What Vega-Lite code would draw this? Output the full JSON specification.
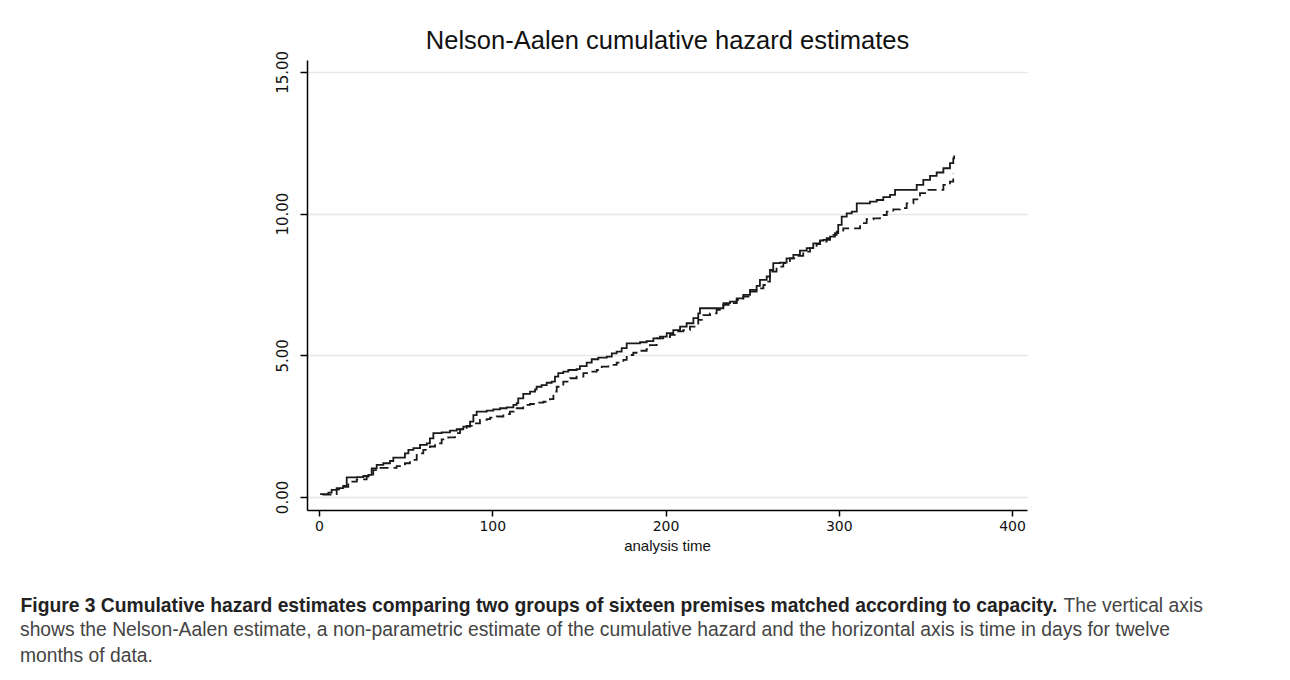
{
  "$schema": "https://vega.github.io/schema/vega-lite/v6.json",
  "width": 720,
  "height": 450,
  "autosize": {"type": "none"},
  "padding": {"left": 307, "top": 60, "right": 263, "bottom": 170},
  "background": "white",
  "config": {"view": {"stroke": null}, "font": "Liberation Sans"},
  "title": {
    "text": [
      "shows the Nelson-Aalen estimate, a non-parametric estimate of the cumulative hazard and the horizontal axis is time in days for twelve",
      "months of data."
    ],
    "orient": "bottom",
    "anchor": "start",
    "frame": "group",
    "dx": -287,
    "offset": 6,
    "font": "Liberation Sans",
    "fontSize": 19.3,
    "fontWeight": "normal",
    "color": "#444444",
    "lineHeight": 26
  },
  "data": {
    "values": [
      {"g": "a", "t": 0.6, "h": 0.10}, {"g": "a", "t": 5.4, "h": 0.15}, {"g": "a", "t": 7.3, "h": 0.25}, {"g": "a", "t": 10.2, "h": 0.31},
      {"g": "a", "t": 14, "h": 0.39}, {"g": "a", "t": 16, "h": 0.69}, {"g": "a", "t": 21.8, "h": 0.70}, {"g": "a", "t": 25.6, "h": 0.74},
      {"g": "a", "t": 28.5, "h": 0.78}, {"g": "a", "t": 30.4, "h": 1.01}, {"g": "a", "t": 33.3, "h": 1.13}, {"g": "a", "t": 37.1, "h": 1.19},
      {"g": "a", "t": 41, "h": 1.27}, {"g": "a", "t": 42.9, "h": 1.39}, {"g": "a", "t": 49.6, "h": 1.54}, {"g": "a", "t": 51.6, "h": 1.66},
      {"g": "a", "t": 54.5, "h": 1.72}, {"g": "a", "t": 58.3, "h": 1.84}, {"g": "a", "t": 62.2, "h": 1.89}, {"g": "a", "t": 64, "h": 2.07},
      {"g": "a", "t": 66, "h": 2.25}, {"g": "a", "t": 70.8, "h": 2.28}, {"g": "a", "t": 75.6, "h": 2.34}, {"g": "a", "t": 79.5, "h": 2.39},
      {"g": "a", "t": 83.3, "h": 2.48}, {"g": "a", "t": 87.2, "h": 2.66}, {"g": "a", "t": 89.1, "h": 2.89}, {"g": "a", "t": 91, "h": 3.01},
      {"g": "a", "t": 96.8, "h": 3.05}, {"g": "a", "t": 100.6, "h": 3.09}, {"g": "a", "t": 104.5, "h": 3.13}, {"g": "a", "t": 108.3, "h": 3.16},
      {"g": "a", "t": 112.2, "h": 3.25}, {"g": "a", "t": 114.1, "h": 3.31}, {"g": "a", "t": 115, "h": 3.48}, {"g": "a", "t": 117.9, "h": 3.64},
      {"g": "a", "t": 121.8, "h": 3.72}, {"g": "a", "t": 124.7, "h": 3.80}, {"g": "a", "t": 125.6, "h": 3.89}, {"g": "a", "t": 128.5, "h": 3.95},
      {"g": "a", "t": 131.4, "h": 4.03}, {"g": "a", "t": 134.3, "h": 4.07}, {"g": "a", "t": 136.2, "h": 4.25}, {"g": "a", "t": 138.1, "h": 4.37},
      {"g": "a", "t": 141, "h": 4.42}, {"g": "a", "t": 143.9, "h": 4.48}, {"g": "a", "t": 148.7, "h": 4.51}, {"g": "a", "t": 150.6, "h": 4.62},
      {"g": "a", "t": 154.5, "h": 4.74}, {"g": "a", "t": 157.4, "h": 4.86}, {"g": "a", "t": 161.2, "h": 4.92}, {"g": "a", "t": 166.1, "h": 4.95},
      {"g": "a", "t": 169, "h": 5.07}, {"g": "a", "t": 171.8, "h": 5.13}, {"g": "a", "t": 174.7, "h": 5.25}, {"g": "a", "t": 177.6, "h": 5.42},
      {"g": "a", "t": 185.3, "h": 5.46}, {"g": "a", "t": 189.1, "h": 5.50}, {"g": "a", "t": 193, "h": 5.60}, {"g": "a", "t": 196.8, "h": 5.66},
      {"g": "a", "t": 200.7, "h": 5.78}, {"g": "a", "t": 204.5, "h": 5.89}, {"g": "a", "t": 208.4, "h": 6.01}, {"g": "a", "t": 212.2, "h": 6.13},
      {"g": "a", "t": 216.1, "h": 6.31}, {"g": "a", "t": 218.9, "h": 6.48}, {"g": "a", "t": 219.9, "h": 6.66}, {"g": "a", "t": 233.4, "h": 6.84},
      {"g": "a", "t": 237.2, "h": 6.89}, {"g": "a", "t": 241.1, "h": 7.01}, {"g": "a", "t": 244.9, "h": 7.13}, {"g": "a", "t": 248.8, "h": 7.31},
      {"g": "a", "t": 252.6, "h": 7.45}, {"g": "a", "t": 254.5, "h": 7.66}, {"g": "a", "t": 258.4, "h": 7.78}, {"g": "a", "t": 260.3, "h": 8.01},
      {"g": "a", "t": 262.2, "h": 8.25}, {"g": "a", "t": 266.1, "h": 8.27}, {"g": "a", "t": 269.9, "h": 8.42}, {"g": "a", "t": 273.8, "h": 8.54},
      {"g": "a", "t": 277.6, "h": 8.69}, {"g": "a", "t": 281.5, "h": 8.78}, {"g": "a", "t": 285.3, "h": 8.95}, {"g": "a", "t": 289.2, "h": 9.05},
      {"g": "a", "t": 291.1, "h": 9.07}, {"g": "a", "t": 295, "h": 9.19}, {"g": "a", "t": 297.8, "h": 9.31}, {"g": "a", "t": 299.7, "h": 9.60},
      {"g": "a", "t": 301.7, "h": 9.89}, {"g": "a", "t": 304.6, "h": 10.01}, {"g": "a", "t": 307.5, "h": 10.07}, {"g": "a", "t": 310.4, "h": 10.36},
      {"g": "a", "t": 318, "h": 10.42}, {"g": "a", "t": 321.9, "h": 10.48}, {"g": "a", "t": 325.7, "h": 10.58}, {"g": "a", "t": 329.6, "h": 10.66},
      {"g": "a", "t": 332.5, "h": 10.84}, {"g": "a", "t": 345, "h": 11.01}, {"g": "a", "t": 348.8, "h": 11.19}, {"g": "a", "t": 352.7, "h": 11.33},
      {"g": "a", "t": 356.5, "h": 11.45}, {"g": "a", "t": 360.4, "h": 11.60}, {"g": "a", "t": 364.2, "h": 11.78}, {"g": "a", "t": 366.1, "h": 11.95},
      {"g": "a", "t": 366.6, "h": 12.05},
      {"g": "b", "t": 2, "h": 0.08}, {"g": "b", "t": 7.3, "h": 0.10}, {"g": "b", "t": 10.2, "h": 0.27}, {"g": "b", "t": 14, "h": 0.36},
      {"g": "b", "t": 16.9, "h": 0.54}, {"g": "b", "t": 21.8, "h": 0.62}, {"g": "b", "t": 27.5, "h": 0.72}, {"g": "b", "t": 31.3, "h": 0.95},
      {"g": "b", "t": 34.2, "h": 1.03}, {"g": "b", "t": 44.8, "h": 1.09}, {"g": "b", "t": 49.6, "h": 1.19}, {"g": "b", "t": 52.5, "h": 1.31},
      {"g": "b", "t": 56.4, "h": 1.54}, {"g": "b", "t": 60.2, "h": 1.66}, {"g": "b", "t": 64, "h": 1.78}, {"g": "b", "t": 67, "h": 1.89},
      {"g": "b", "t": 70.8, "h": 2.03}, {"g": "b", "t": 74.6, "h": 2.10}, {"g": "b", "t": 78.5, "h": 2.25}, {"g": "b", "t": 81.4, "h": 2.39},
      {"g": "b", "t": 85.2, "h": 2.51}, {"g": "b", "t": 89.1, "h": 2.60}, {"g": "b", "t": 92.9, "h": 2.72}, {"g": "b", "t": 96.8, "h": 2.75},
      {"g": "b", "t": 98.7, "h": 2.80}, {"g": "b", "t": 102.6, "h": 2.84}, {"g": "b", "t": 106.4, "h": 2.92}, {"g": "b", "t": 110.2, "h": 3.01},
      {"g": "b", "t": 114.1, "h": 3.13}, {"g": "b", "t": 117.9, "h": 3.25}, {"g": "b", "t": 121.8, "h": 3.28}, {"g": "b", "t": 125.6, "h": 3.33},
      {"g": "b", "t": 129.5, "h": 3.36}, {"g": "b", "t": 133.3, "h": 3.45}, {"g": "b", "t": 135.3, "h": 3.72}, {"g": "b", "t": 137.2, "h": 3.89},
      {"g": "b", "t": 141, "h": 4.07}, {"g": "b", "t": 144.9, "h": 4.19}, {"g": "b", "t": 148.7, "h": 4.25}, {"g": "b", "t": 152.6, "h": 4.37},
      {"g": "b", "t": 156.4, "h": 4.42}, {"g": "b", "t": 160.3, "h": 4.48}, {"g": "b", "t": 163.2, "h": 4.60}, {"g": "b", "t": 167, "h": 4.66},
      {"g": "b", "t": 171.8, "h": 4.74}, {"g": "b", "t": 175.7, "h": 4.84}, {"g": "b", "t": 177.6, "h": 5.01}, {"g": "b", "t": 181.4, "h": 5.09},
      {"g": "b", "t": 185.3, "h": 5.16}, {"g": "b", "t": 189.1, "h": 5.22}, {"g": "b", "t": 191, "h": 5.36}, {"g": "b", "t": 194.9, "h": 5.60},
      {"g": "b", "t": 198.7, "h": 5.64}, {"g": "b", "t": 202.6, "h": 5.72}, {"g": "b", "t": 206.5, "h": 5.84}, {"g": "b", "t": 210.3, "h": 5.89},
      {"g": "b", "t": 214.1, "h": 6.01}, {"g": "b", "t": 218, "h": 6.07}, {"g": "b", "t": 218.9, "h": 6.25}, {"g": "b", "t": 221.8, "h": 6.42},
      {"g": "b", "t": 225.7, "h": 6.48}, {"g": "b", "t": 229.5, "h": 6.60}, {"g": "b", "t": 233.4, "h": 6.78}, {"g": "b", "t": 237.2, "h": 6.84},
      {"g": "b", "t": 241.1, "h": 6.95}, {"g": "b", "t": 244.9, "h": 7.07}, {"g": "b", "t": 248.8, "h": 7.25}, {"g": "b", "t": 252.6, "h": 7.36},
      {"g": "b", "t": 256.5, "h": 7.48}, {"g": "b", "t": 258.4, "h": 7.60}, {"g": "b", "t": 260.3, "h": 7.95}, {"g": "b", "t": 264.1, "h": 8.13},
      {"g": "b", "t": 268, "h": 8.25}, {"g": "b", "t": 271.8, "h": 8.42}, {"g": "b", "t": 275.7, "h": 8.51}, {"g": "b", "t": 279.5, "h": 8.66},
      {"g": "b", "t": 283.4, "h": 8.78}, {"g": "b", "t": 287.2, "h": 8.92}, {"g": "b", "t": 289.2, "h": 9.01}, {"g": "b", "t": 293, "h": 9.13},
      {"g": "b", "t": 296.9, "h": 9.25}, {"g": "b", "t": 298.8, "h": 9.36}, {"g": "b", "t": 302.6, "h": 9.48}, {"g": "b", "t": 312.3, "h": 9.66},
      {"g": "b", "t": 316.1, "h": 9.80}, {"g": "b", "t": 320, "h": 9.83}, {"g": "b", "t": 323.8, "h": 9.95}, {"g": "b", "t": 327.7, "h": 10.07},
      {"g": "b", "t": 331.5, "h": 10.15}, {"g": "b", "t": 335.4, "h": 10.19}, {"g": "b", "t": 339.2, "h": 10.36}, {"g": "b", "t": 343.1, "h": 10.50},
      {"g": "b", "t": 346.9, "h": 10.72}, {"g": "b", "t": 350.8, "h": 10.84}, {"g": "b", "t": 360.4, "h": 11.01}, {"g": "b", "t": 364.2, "h": 11.13},
      {"g": "b", "t": 366.1, "h": 11.42}
    ]
  },
  "layer": [
    {
      "transform": [{"filter": "datum.g === 'a'"}],
      "mark": {"type": "line", "interpolate": "step-after", "color": "#1a1a1a", "strokeWidth": 1.8},
      "encoding": {
        "x": {
          "field": "t", "type": "quantitative",
          "scale": {"domain": [-6.93, 408.66], "nice": false, "zero": false},
          "axis": {
            "orient": "bottom",
            "values": [0, 100, 200, 300, 400], "grid": false, "title": "analysis time",
            "domainColor": "#000000", "domainWidth": 1.5, "tickColor": "#000000", "tickWidth": 1.5, "tickSize": 6,
            "labelFont": "DejaVu Sans", "labelFontSize": 14, "labelColor": "#111111", "labelPadding": 3,
            "labelFlush": false, "labelOverlap": false,
            "titleFont": "Liberation Sans", "titleFontSize": 15, "titleFontWeight": "normal", "titleColor": "#111111", "titlePadding": 5
          }
        },
        "y": {
          "field": "h", "type": "quantitative",
          "scale": {"domain": [-0.46, 15.42], "nice": false, "zero": false},
          "axis": {
            "orient": "left",
            "values": [0, 5, 10, 15], "format": ".2f", "grid": true, "gridColor": "#e8e8e8", "gridWidth": 1.5,
            "domainColor": "#000000", "domainWidth": 1.5, "tickColor": "#000000", "tickWidth": 1.5, "tickSize": 7,
            "labelFont": "DejaVu Sans", "labelFontSize": 15, "labelColor": "#111111",
            "labelAngle": -90, "labelAlign": "center", "labelBaseline": "bottom", "labelPadding": 10,
            "labelFlush": false, "labelOverlap": false,
            "title": "Nelson-Aalen cumulative hazard estimates",
            "titleAngle": 0, "titleX": 360, "titleY": -12, "titleAlign": "center", "titleBaseline": "alphabetic",
            "titleFont": "Liberation Sans", "titleFontSize": 25.5, "titleFontWeight": "normal", "titleColor": "#111111"
          }
        }
      }
    },
    {
      "transform": [{"filter": "datum.g === 'b'"}],
      "mark": {"type": "line", "interpolate": "step-after", "color": "#1a1a1a", "strokeWidth": 1.8, "strokeDash": [9, 5]},
      "encoding": {
        "x": {
          "field": "t", "type": "quantitative",
          "scale": {"domain": [-6.93, 408.66], "nice": false, "zero": false},
          "axis": {
            "orient": "top", "domain": false, "ticks": false, "labels": false, "grid": false,
            "title": "Figure 3 Cumulative hazard estimates comparing two groups of sixteen premises matched according to capacity.",
            "titleX": -287, "titleY": 551, "titleAngle": 0, "titleAlign": "left", "titleBaseline": "alphabetic",
            "titleFont": "Liberation Sans", "titleFontSize": 19.3, "titleFontWeight": "bold", "titleColor": "#222222"
          }
        },
        "y": {
          "field": "h", "type": "quantitative",
          "scale": {"domain": [-0.46, 15.42], "nice": false, "zero": false},
          "axis": {
            "orient": "right", "domain": false, "ticks": false, "labels": false, "grid": false,
            "title": "The vertical axis",
            "titleX": 36, "titleY": 551, "titleAngle": 0, "titleAlign": "left", "titleBaseline": "alphabetic",
            "titleFont": "Liberation Sans", "titleFontSize": 19.3, "titleFontWeight": "normal", "titleColor": "#444444"
          }
        }
      }
    }
  ],
  "resolve": {"scale": {"x": "independent", "y": "independent"}}
}
